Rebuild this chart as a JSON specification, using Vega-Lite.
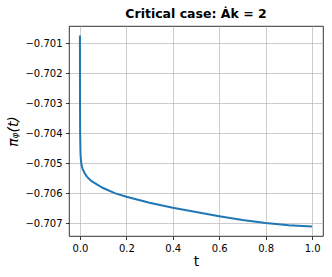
{
  "$schema": "https://vega.github.io/schema/vega-lite/v6.json",
  "width": 254,
  "height": 210,
  "autosize": {"type": "none"},
  "padding": {"left": 69, "top": 26, "right": 9, "bottom": 41},
  "background": "white",
  "config": {
    "font": "DejaVu Sans",
    "view": {"stroke": "#000000", "strokeWidth": 0.8},
    "axis": {
      "grid": true,
      "gridColor": "#b0b0b0",
      "gridOpacity": 0.8,
      "gridWidth": 0.8,
      "domain": false,
      "tickColor": "#000000",
      "tickSize": 3.5,
      "tickWidth": 0.8,
      "labelFont": "DejaVu Sans",
      "labelFontSize": 10,
      "labelColor": "#000000",
      "labelPadding": 3.5,
      "titleFont": "DejaVu Sans",
      "titleFontWeight": "normal",
      "titleColor": "#000000"
    }
  },
  "title": {
    "text": "Critical case: Ȧk = 2",
    "font": "DejaVu Sans",
    "fontSize": 12.5,
    "fontWeight": "bold",
    "color": "#000000",
    "anchor": "middle",
    "offset": 6
  },
  "data": {
    "values": [
      {"t": 0.0, "v": -0.70075},
      {"t": 0.0002, "v": -0.7020},
      {"t": 0.0005, "v": -0.7032},
      {"t": 0.001, "v": -0.7040},
      {"t": 0.002, "v": -0.7045},
      {"t": 0.003, "v": -0.70475},
      {"t": 0.005, "v": -0.70495},
      {"t": 0.008, "v": -0.70510},
      {"t": 0.012, "v": -0.70520},
      {"t": 0.02, "v": -0.70533},
      {"t": 0.03, "v": -0.70545},
      {"t": 0.05, "v": -0.70560},
      {"t": 0.075, "v": -0.70572},
      {"t": 0.1, "v": -0.70583},
      {"t": 0.15, "v": -0.70600},
      {"t": 0.2, "v": -0.70612},
      {"t": 0.25, "v": -0.70622},
      {"t": 0.3, "v": -0.70632},
      {"t": 0.4, "v": -0.70649},
      {"t": 0.5, "v": -0.70663},
      {"t": 0.6, "v": -0.70677},
      {"t": 0.7, "v": -0.70690},
      {"t": 0.8, "v": -0.70700},
      {"t": 0.9, "v": -0.70707},
      {"t": 1.0, "v": -0.70711}
    ]
  },
  "mark": {"type": "line", "color": "#1f77b4", "strokeWidth": 2, "clip": true},
  "encoding": {
    "x": {
      "field": "t",
      "type": "quantitative",
      "scale": {"domain": [-0.047, 1.047], "nice": false, "zero": false},
      "axis": {
        "values": [0, 0.2, 0.4, 0.6, 0.8, 1.0],
        "format": ".1f",
        "title": "t",
        "titleFontSize": 14,
        "titlePadding": 1
      }
    },
    "y": {
      "field": "v",
      "type": "quantitative",
      "scale": {"domain": [-0.70743, -0.70043], "nice": false, "zero": false},
      "axis": {
        "values": [-0.701, -0.702, -0.703, -0.704, -0.705, -0.706, -0.707],
        "format": ".3f",
        "labelExpr": "replace(datum.label, '-', '\u2212')",
        "title": "πᵩ(t)",
        "titleFontSize": 14,
        "titleFontStyle": "italic",
        "titlePadding": 4
      }
    }
  }
}
